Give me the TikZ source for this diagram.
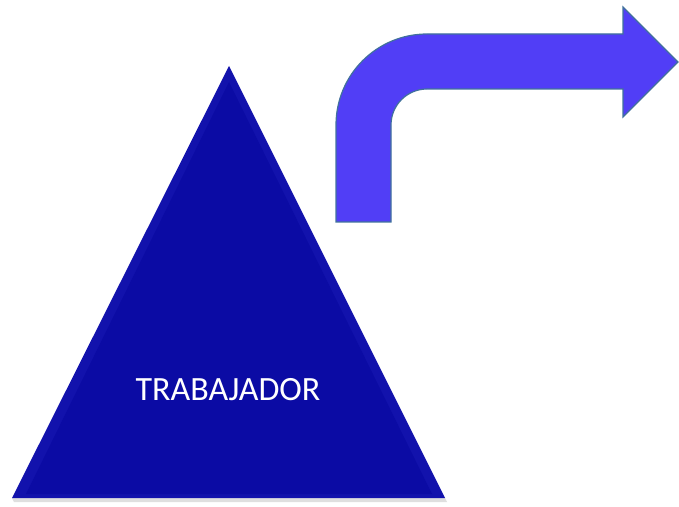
\documentclass[tikz,border=0pt]{standalone}
\usepackage{fontspec}
\setmainfont{Carlito}
\usetikzlibrary{positioning}

\definecolor{trianglefill}{RGB}{11,11,164}
\definecolor{triangleedge}{RGB}{18,18,172}
\definecolor{arrowfill}{RGB}{81,62,246}
\definecolor{arrowline}{RGB}{65,113,156}

\tikzset{
  pyramid/.style={fill=trianglefill},
  bentarrow/.style={fill=arrowfill, draw=arrowline, line width=1.2pt, line join=miter},
  label/.style={text=white, font=\fontsize{34}{40}\selectfont, inner sep=0pt}
}

\begin{document}
\begin{tikzpicture}[x=1pt, y=1pt]
	\useasboundingbox (0,0) rectangle (679,506);

	% Triangle
	\fill [black!25, opacity=0.5] (14,4) -- (447,4) -- (445,8) -- (12,8) -- cycle;
	\fill [triangleedge] (229,440) -- (445,8) -- (12,8) -- cycle;
	\fill [pyramid] (229,424) -- (432,12) -- (26,12) -- cycle;
	\node [label] (worker) at (228,116) {TRABAJADOR};

	% Bent arrow
	\draw [bentarrow] (336,284) -- (336,381) arc[start angle=180, end angle=90, radius=91]
		-- (623,472) -- (623,499) -- (678,444) -- (623,389) -- (623,417)
		-- (427,417) arc[start angle=90, end angle=180, radius=36]
		-- (391,284) -- cycle;

\end{tikzpicture}
\end{document}
